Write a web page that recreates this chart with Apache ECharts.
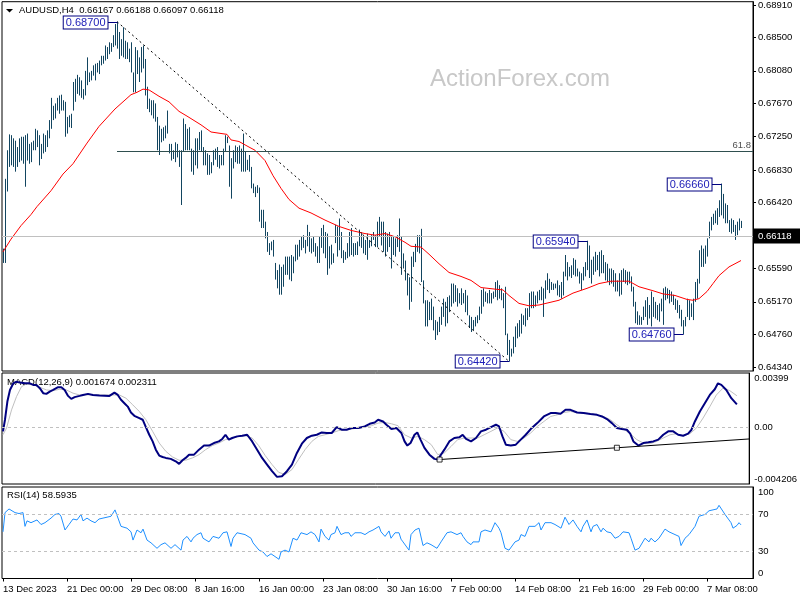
<!DOCTYPE html>
<html><head><meta charset="utf-8">
<script src="https://cdn.jsdelivr.net/npm/echarts@6/dist/echarts.min.js"></script>
<style>html,body{margin:0;padding:0;background:#fff}#c{width:800px;height:600px}</style>
</head><body><div id="c"></div>
<script>
// ---------- data ----------
const timeLabels = ["13 Dec 2023","21 Dec 00:00","29 Dec 08:00","8 Jan 16:00","16 Jan 00:00","23 Jan 08:00","30 Jan 16:00","7 Feb 00:00","14 Feb 08:00","21 Feb 16:00","29 Feb 00:00","7 Mar 08:00"];
const timeTickBars = [0,32,64,96,128,160,192,224,256,288,320,352];
const priceTicks = [0.6434,0.6476,0.6517,0.6559,0.6600,0.6642,0.6683,0.6725,0.6767,0.6808,0.6850,0.6891];
const macdTicks = [-0.004206,0,0.00399];
const macdTickLabels = ["-0.004206","0.00","0.00399"];
const rsiTicks = [0,30,70,100];

const highs = [
0.6584,0.6672,0.6708,0.6728,0.6727,0.6723,0.6720,0.6712,0.6723,0.6725,
0.6725,0.6727,0.6729,0.6716,0.6718,0.6720,0.6735,0.6733,0.6727,0.6716,
0.6729,0.6727,0.6733,0.6746,0.6774,0.6764,0.6767,0.6774,0.6777,0.6778,
0.6771,0.6769,0.6750,0.6752,0.6754,0.6794,0.6798,0.6803,0.6800,0.6796,
0.6785,0.6808,0.6825,0.6806,0.6808,0.6815,0.6817,0.6818,0.6821,0.6827,
0.6827,0.6840,0.6838,0.6844,0.6843,0.6853,0.6867,0.6870,0.6857,0.6848,
0.6863,0.6846,0.6844,0.6836,0.6844,0.6806,0.6838,0.6834,0.6825,0.6838,
0.6840,0.6823,0.6788,0.6773,0.6771,0.6771,0.6767,0.6750,0.6739,0.6735,
0.6737,0.6739,0.6758,0.6716,0.6716,0.6708,0.6718,0.6716,0.6708,0.6708,
0.6748,0.6741,0.6735,0.6737,0.6710,0.6708,0.6723,0.6723,0.6731,0.6733,
0.6712,0.6708,0.6704,0.6702,0.6693,0.6708,0.6710,0.6712,0.6702,0.6702,
0.6710,0.6727,0.6725,0.6714,0.6698,0.6708,0.6714,0.6712,0.6714,0.6710,
0.6729,0.6706,0.6696,0.6702,0.6687,0.6666,0.6662,0.6664,0.6661,0.6633,
0.6633,0.6618,0.6605,0.6591,0.6593,0.6595,0.6566,0.6557,0.6564,0.6561,
0.6564,0.6574,0.6574,0.6574,0.6576,0.6574,0.6589,0.6589,0.6595,0.6599,
0.6601,0.6595,0.6614,0.6605,0.6597,0.6599,0.6591,0.6587,0.6599,0.6610,
0.6614,0.6605,0.6603,0.6587,0.6589,0.6578,0.6614,0.6612,0.6622,0.6605,
0.6582,0.6580,0.6591,0.6605,0.6610,0.6591,0.6591,0.6593,0.6608,0.6605,
0.6599,0.6595,0.6603,0.6595,0.6601,0.6605,0.6601,0.6618,0.6624,0.6618,
0.6618,0.6605,0.6603,0.6605,0.6601,0.6599,0.6597,0.6601,0.6622,0.6599,
0.6578,0.6569,0.6553,0.6548,0.6574,0.6580,0.6590,0.6601,0.6601,0.6609,
0.6544,0.6519,0.6519,0.6517,0.6521,0.6511,0.6494,0.6492,0.6498,0.6511,
0.6521,0.6517,0.6523,0.6525,0.6540,0.6540,0.6538,0.6534,0.6528,0.6534,
0.6528,0.6532,0.6525,0.6500,0.6498,0.6494,0.6498,0.6500,0.6511,0.6532,
0.6534,0.6530,0.6528,0.6532,0.6528,0.6530,0.6542,0.6544,0.6538,0.6534,
0.6528,0.6536,0.6477,0.6469,0.6458,0.6473,0.6486,0.6490,0.6494,0.6502,
0.6500,0.6509,0.6509,0.6528,0.6530,0.6530,0.6525,0.6530,0.6532,0.6536,
0.6534,0.6544,0.6553,0.6546,0.6542,0.6540,0.6540,0.6544,0.6538,0.6542,
0.6555,0.6576,0.6567,0.6561,0.6563,0.6572,0.6570,0.6559,0.6555,0.6553,
0.6561,0.6567,0.6594,0.6588,0.6570,0.6574,0.6580,0.6576,0.6580,0.6582,
0.6576,0.6567,0.6565,0.6559,0.6559,0.6557,0.6553,0.6544,0.6553,0.6557,
0.6559,0.6557,0.6555,0.6555,0.6549,0.6536,0.6517,0.6505,0.6500,0.6498,
0.6511,0.6519,0.6523,0.6513,0.6530,0.6523,0.6517,0.6513,0.6515,0.6521,
0.6534,0.6536,0.6534,0.6532,0.6530,0.6526,0.6521,0.6519,0.6513,0.6507,
0.6494,0.6498,0.6521,0.6519,0.6515,0.6521,0.6542,0.6546,0.6582,0.6588,
0.6584,0.6588,0.6597,0.6618,0.6624,0.6628,0.6632,0.6635,0.6645,0.6666,
0.6653,0.6641,0.6639,0.6620,0.6622,0.6620,0.6614,0.6618,0.6622,0.6619];

const lows = [
0.6566,0.6566,0.6656,0.6687,0.6689,0.6687,0.6681,0.6687,0.6693,0.6695,
0.6691,0.6662,0.6695,0.6691,0.6693,0.6708,0.6708,0.6712,0.6689,0.6697,
0.6704,0.6706,0.6712,0.6723,0.6735,0.6746,0.6748,0.6758,0.6754,0.6758,
0.6758,0.6725,0.6729,0.6737,0.6736,0.6758,0.6769,0.6779,0.6777,0.6774,
0.6772,0.6777,0.6790,0.6794,0.6796,0.6802,0.6796,0.6806,0.6804,0.6815,
0.6817,0.6821,0.6823,0.6829,0.6832,0.6838,0.6840,0.6836,0.6823,0.6827,
0.6825,0.6823,0.6823,0.6819,0.6806,0.6781,0.6781,0.6804,0.6794,0.6806,
0.6811,0.6777,0.6760,0.6756,0.6752,0.6748,0.6744,0.6708,0.6702,0.6718,
0.6720,0.6723,0.6729,0.6704,0.6695,0.6697,0.6693,0.6699,0.6687,0.6639,
0.6706,0.6708,0.6708,0.6708,0.6681,0.6677,0.6689,0.6685,0.6708,0.6706,
0.6689,0.6689,0.6677,0.6677,0.6679,0.6689,0.6696,0.6687,0.6685,0.6689,
0.6689,0.6706,0.6717,0.6662,0.6647,0.6685,0.6693,0.6691,0.6691,0.6681,
0.6681,0.6681,0.6683,0.6681,0.6660,0.6654,0.6649,0.6654,0.6618,0.6610,
0.6610,0.6597,0.6580,0.6576,0.6582,0.6574,0.6545,0.6534,0.6526,0.6526,
0.6536,0.6551,0.6551,0.6545,0.6543,0.6553,0.6568,0.6570,0.6574,0.6582,
0.6585,0.6578,0.6587,0.6580,0.6578,0.6580,0.6574,0.6566,0.6566,0.6585,
0.6578,0.6572,0.6551,0.6559,0.6564,0.6566,0.6591,0.6574,0.6582,0.6572,
0.6566,0.6570,0.6572,0.6574,0.6576,0.6574,0.6576,0.6576,0.6587,0.6585,
0.6578,0.6576,0.6570,0.6585,0.6587,0.6595,0.6586,0.6586,0.6599,0.6588,
0.6580,0.6574,0.6580,0.6586,0.6559,0.6576,0.6574,0.6586,0.6580,0.6551,
0.6559,0.6544,0.6525,0.6507,0.6517,0.6561,0.6567,0.6580,0.6578,0.6542,
0.6515,0.6486,0.6486,0.6494,0.6494,0.6481,0.6469,0.6475,0.6479,0.6488,
0.6498,0.6486,0.6490,0.6504,0.6511,0.6515,0.6517,0.6511,0.6515,0.6513,
0.6515,0.6504,0.6500,0.6484,0.6479,0.6481,0.6486,0.6490,0.6494,0.6502,
0.6511,0.6517,0.6515,0.6515,0.6515,0.6521,0.6523,0.6519,0.6521,0.6519,
0.6509,0.6475,0.6450,0.6442,0.6448,0.6452,0.6460,0.6471,0.6473,0.6477,
0.6488,0.6486,0.6494,0.6498,0.6509,0.6509,0.6511,0.6515,0.6519,0.6519,
0.6498,0.6521,0.6532,0.6528,0.6532,0.6532,0.6534,0.6525,0.6523,0.6521,
0.6525,0.6549,0.6544,0.6549,0.6547,0.6551,0.6549,0.6549,0.6540,0.6532,
0.6544,0.6549,0.6557,0.6547,0.6540,0.6551,0.6555,0.6557,0.6549,0.6553,
0.6553,0.6544,0.6542,0.6538,0.6540,0.6536,0.6530,0.6530,0.6524,0.6526,
0.6542,0.6540,0.6538,0.6540,0.6530,0.6511,0.6490,0.6488,0.6488,0.6488,
0.6494,0.6498,0.6488,0.6496,0.6486,0.6498,0.6496,0.6494,0.6492,0.6505,
0.6488,0.6519,0.6521,0.6515,0.6517,0.6513,0.6507,0.6503,0.6496,0.6486,
0.6476,0.6486,0.6498,0.6494,0.6498,0.6494,0.6517,0.6521,0.6540,0.6561,
0.6561,0.6565,0.6574,0.6597,0.6607,0.6614,0.6616,0.6614,0.6624,0.6626,
0.6622,0.6616,0.6616,0.6605,0.6603,0.6605,0.6595,0.6601,0.6607,0.6610];

const maPoints = [[0,0.6580],[4,0.6596],[9,0.6613],[14,0.6627],[17,0.6637],[24,0.6657],[30,0.6678],[35,0.6691],[42,0.6717],[48,0.6738],[56,0.6760],[64,0.6778],[67,0.6781],[70,0.6785],[73,0.6784],[78,0.6776],[83,0.6769],[88,0.6757],[92,0.6751],[99,0.6740],[104,0.6731],[112,0.6728],[114,0.6721],[118,0.6719],[123,0.6712],[126,0.6708],[131,0.6695],[135,0.6676],[139,0.6660],[143,0.6646],[148,0.6635],[154,0.6629],[161,0.6620],[168,0.6612],[174,0.6607],[181,0.6603],[186,0.6601],[191,0.6603],[196,0.6599],[201,0.6592],[204,0.6587],[209,0.6586],[213,0.6577],[218,0.6565],[223,0.6554],[229,0.6549],[234,0.6544],[239,0.6535],[246,0.6533],[250,0.6532],[253,0.6525],[258,0.6515],[263,0.6512],[268,0.6513],[273,0.6516],[278,0.6519],[285,0.6528],[292,0.6534],[298,0.6540],[304,0.6543],[313,0.6543],[318,0.6536],[325,0.6531],[330,0.6527],[336,0.6525],[342,0.6520],[345,0.6519],[348,0.6521],[352,0.6530],[355,0.6540],[358,0.6550],[363,0.6561],[369,0.6569]];

const macdMain = [[0,-0.00032],[1,0.00054],[2.2,0.00188],[3.5,0.00274],[5.2,0.00323],[6.8,0.00335],[8.5,0.00328],[11,0.00323],[13.5,0.00323],[15.2,0.00311],[16.8,0.00311],[18.5,0.00287],[20.2,0.00250],[21.8,0.00245],[23.5,0.00262],[25.2,0.00274],[27.7,0.00294],[29.3,0.00294],[31,0.00274],[32.7,0.00230],[34.3,0.00208],[36,0.00221],[38.5,0.00230],[40.2,0.00237],[42.7,0.00245],[45.2,0.00237],[48.5,0.00232],[53.5,0.00230],[56,0.00254],[57.7,0.00237],[59.3,0.00201],[61,0.00176],[62.7,0.00151],[64.3,0.00107],[66,0.00083],[68.5,0.00066],[70.2,0.00054],[71.8,0],[73.5,-0.00057],[75.2,-0.00106],[76.8,-0.00167],[78.5,-0.00211],[80.2,-0.00221],[81.8,-0.00228],[84.3,-0.00235],[86.8,-0.00253],[88.5,-0.00272],[90.2,-0.00245],[91.8,-0.00228],[93.5,-0.00204],[96,-0.00204],[98.5,-0.00167],[101,-0.00137],[103.5,-0.00137],[106,-0.00118],[108.5,-0.00106],[110.2,-0.00088],[111.8,-0.00057],[113.5,-0.00093],[115.2,-0.00081],[117.7,-0.00069],[120.2,-0.00064],[122.7,-0.00057],[125.2,-0.00106],[127.7,-0.00167],[130.2,-0.00228],[132.7,-0.00277],[135.2,-0.00326],[137.7,-0.00368],[140.2,-0.00363],[142.7,-0.00326],[145.2,-0.00277],[147.7,-0.00191],[150.2,-0.00123],[152.7,-0.00081],[155.2,-0.00064],[157.7,-0.00057],[160.2,-0.00040],[162.7,-0.00044],[165.2,-0.00044],[167.7,0],[170.2,-0.00020],[172.7,-0.00020],[175.2,-0.00007],[178.5,-0.00007],[181.8,0.00004],[184.3,0.00024],[186.8,0.00034],[188.5,0.00054],[191,0.00041],[192.7,0.00017],[195.2,-0.00015],[197.7,-0.00007],[200.2,-0.00044],[201.8,-0.00106],[203.2,-0.00137],[204.8,-0.00118],[206.8,-0.00057],[208.2,-0.00040],[209.8,-0.00093],[211.8,-0.00154],[214.3,-0.00204],[216.8,-0.00235],[218.5,-0.00240],[219.3,-0.00228],[221.8,-0.00167],[224.3,-0.00106],[226.8,-0.00081],[229.3,-0.00076],[231,-0.00057],[232.7,-0.00088],[235.2,-0.00106],[237.7,-0.00081],[240.2,-0.00032],[242.7,-0.00020],[245.2,0],[247.7,0.00017],[249.3,0.00004],[251,-0.00069],[252.7,-0.00130],[255.2,-0.00137],[257.7,-0.00130],[260.2,-0.00093],[262.7,-0.00057],[265.2,-0.00015],[268.5,0.00029],[271.8,0.00078],[275.2,0.00103],[277.7,0.00103],[280.2,0.00098],[282.7,0.00127],[285.2,0.00127],[288.5,0.00107],[291.8,0.00103],[295.2,0.00096],[298.5,0.00090],[301,0.00078],[303.5,0.00059],[306,0.00029],[308.5,-0.00007],[311,-0.00015],[313.5,-0.00020],[315.2,-0.00049],[316.8,-0.00106],[319.3,-0.00137],[321.8,-0.00118],[324.3,-0.00113],[326.8,-0.00106],[329.3,-0.00093],[331.8,-0.00057],[334.3,-0.00032],[336.8,-0.00032],[339.3,-0.00057],[341.8,-0.00064],[344.3,-0.00049],[346,-0.00020],[347.7,0.00041],[350.2,0.00115],[352.7,0.00176],[355.2,0.00237],[357.7,0.00279],[359.3,0.00323],[361,0.00311],[363.5,0.00274],[366,0.00213],[368.8,0.00167]];

const macdSignal = [[0,-0.00057],[1.8,-0.00007],[4.3,0.00127],[6.8,0.00225],[9.3,0.00298],[11.8,0.00318],[15.2,0.00311],[18.5,0.00294],[21.8,0.00274],[25.2,0.00269],[28.5,0.00279],[31.8,0.00274],[35.2,0.00250],[38.5,0.00237],[43.5,0.00237],[48.5,0.00237],[55.2,0.00237],[58.5,0.00237],[61.8,0.00213],[65.2,0.00164],[68.5,0.00115],[71.8,0.00054],[75.2,-0.00032],[78.5,-0.00118],[81.8,-0.00179],[85.2,-0.00221],[88.5,-0.00245],[91.8,-0.00245],[95.2,-0.00228],[98.5,-0.00204],[101.8,-0.00167],[105.2,-0.00137],[108.5,-0.00118],[111.8,-0.00093],[115.2,-0.00081],[118.5,-0.00069],[121.8,-0.00064],[125.2,-0.00081],[128.5,-0.00137],[131.8,-0.00211],[135.2,-0.00277],[138.5,-0.00334],[141.8,-0.00351],[145.2,-0.00314],[148.5,-0.00240],[151.8,-0.00167],[155.2,-0.00106],[158.5,-0.00069],[161.8,-0.00057],[165.2,-0.00044],[168.5,-0.00027],[171.8,-0.00020],[175.2,-0.00015],[178.5,-0.00007],[181.8,0],[185.2,0.00010],[188.5,0.00029],[191.8,0.00034],[195.2,0.00024],[198.5,0.00010],[201.8,-0.00057],[205.2,-0.00081],[208.5,-0.00069],[211.8,-0.00093],[215.2,-0.00130],[218.5,-0.00204],[221.8,-0.00191],[225.2,-0.00143],[228.5,-0.00093],[231.8,-0.00081],[235.2,-0.00081],[238.5,-0.00081],[241.8,-0.00057],[245.2,-0.00032],[248.5,-0.00007],[251.8,-0.00032],[255.2,-0.00093],[258.5,-0.00106],[261.8,-0.00081],[265.2,-0.00044],[268.5,0.00004],[271.8,0.00041],[275.2,0.00078],[278.5,0.00090],[281.8,0.00107],[285.2,0.00115],[288.5,0.00107],[291.8,0.00103],[295.2,0.00098],[298.5,0.00090],[301.8,0.00078],[305.2,0.00054],[308.5,0.00017],[311.8,-0.00015],[315.2,-0.00049],[318.5,-0.00093],[321.8,-0.00118],[325.2,-0.00123],[328.5,-0.00106],[331.8,-0.00081],[335.2,-0.00057],[338.5,-0.00049],[341.8,-0.00064],[345.2,-0.00049],[348.5,-0.00007],[351.8,0.00066],[355.2,0.00151],[358.5,0.00237],[361.8,0.00287],[365.2,0.00269],[368.8,0.00231]];

const rsiPoints = [[0,51],[1,72],[3,76],[4,75],[6,72],[8,71],[9,72],[10,72],[11,57],[12,63],[14,61],[15,63],[17,64],[19,59],[21,61],[24,66],[26,70],[28,71],[29,68],[31,53],[33,59],[34,57],[35,65],[37,64],[39,70],[40,63],[42,66],[44,63],[46,61],[48,65],[49,64],[52,67],[54,68],[56,75],[57,69],[59,57],[60,59],[62,55],[64,51],[65,42],[67,53],[69,50],[70,54],[72,42],[74,39],[77,33],[79,37],[81,39],[84,33],[86,37],[89,31],[90,42],[92,46],[94,40],[95,44],[97,48],[99,50],[100,44],[103,40],[105,46],[108,44],[110,50],[112,51],[114,35],[115,44],[117,50],[119,49],[121,48],[124,44],[125,39],[128,31],[130,29],[132,24],[134,27],[135,26],[138,21],[139,29],[141,31],[143,29],[145,44],[147,42],[149,50],[150,50],[152,48],[154,51],[156,48],[158,40],[159,54],[161,46],[163,42],[164,48],[166,50],[167,57],[169,48],[171,50],[173,50],[174,46],[176,50],[179,50],[181,48],[183,51],[185,53],[188,57],[189,51],[191,46],[193,52],[194,44],[196,50],[198,50],[199,43],[200,40],[203,31],[204,48],[206,53],[208,55],[209,56],[210,36],[212,39],[214,37],[215,35],[217,33],[219,40],[220,39],[222,50],[224,51],[225,50],[227,48],[229,50],[230,46],[232,40],[234,37],[235,40],[238,40],[239,51],[241,53],[244,51],[245,53],[246,61],[248,55],[249,50],[251,33],[253,31],[254,33],[256,40],[258,42],[259,48],[261,46],[263,57],[264,59],[266,57],[268,61],[269,53],[271,61],[274,61],[276,59],[279,55],[281,67],[283,59],[285,64],[287,57],[289,51],[290,57],[292,64],[294,51],[295,57],[297,59],[299,51],[300,55],[302,51],[304,50],[306,44],[308,46],[310,51],[313,50],[314,44],[316,31],[318,33],[319,33],[321,44],[323,40],[324,44],[326,40],[328,44],[329,42],[331,54],[333,51],[334,51],[336,48],[338,46],[339,36],[341,44],[343,48],[344,46],[346,57],[348,68],[349,66],[351,70],[353,74],[354,76],[357,76],[358,80],[359,82],[361,70],[363,64],[364,61],[365,55],[367,58],[368,61],[369,58.59]];

const highLabelBars = [57, 292, 359];
const lowLabelBars = [253, 340];
const fibLevel = 0.67065;
const fibStartBar = 57;
const lastPrice = 0.66118;
const macdTrend = [[219.4,-0.0024],[308.5,-0.00153],[375,-0.00088]];
const headerText = "AUDUSD,H4  0.66167 0.66188 0.66097 0.66118";
const macdText = "MACD(12,26,9) 0.001674 0.002311";
const rsiText = "RSI(14) 58.5935";

// ---------- chart ----------
const FONT = 'Liberation Sans';
const FS = 9.5;
const BAR_COLOR = '#124560';

function nearestIdx(arr, v){ let b = 0; for (let k = 1; k < arr.length; k++) if (Math.abs(arr[k]-v) < Math.abs(arr[b]-v)) b = k; return b; }

const barData = highs.map((h, i) => [i, lows[i], h]);
const tagData = highLabelBars.map(i => [i, highs[i]]).concat(lowLabelBars.map(i => [i, lows[i]]));

function renderBar(params, api){
  const i = api.value(0);
  const lo = api.coord([i, api.value(1)]);
  const hi = api.coord([i, api.value(2)]);
  const x = Math.floor(lo[0]) + 0.5;
  return {type:'line', shape:{x1:x, y1:lo[1], x2:x, y2:hi[1]}, style:{stroke:BAR_COLOR, lineWidth:1}};
}
function renderTag(params, api){
  const v = api.value(1);
  const p = api.coord([api.value(0), v]);
  const x = Math.floor(p[0]) + 0.5, y = Math.round(p[1]) + 0.5;
  return {type:'group', children:[
    {type:'line', shape:{x1:x-10, y1:y, x2:x, y2:y}, style:{stroke:'#000080', lineWidth:1}},
    {type:'text', x:x-10, y:y, style:{text:v.toFixed(5), align:'right', verticalAlign:'middle', fill:'#2020b8', font:'11px "Liberation Sans"', backgroundColor:'#fff', borderColor:'#000080', borderWidth:1, padding:[1,2,0,2]}}
  ]};
}

const gridBase = {left:2, width:751, show:true, borderColor:'#000', borderWidth:1, backgroundColor:'transparent'};
const xBase = {type:'value', min:-0.5, max:375};
const labelStyle = {color:'#000', fontSize:FS, fontFamily:FONT};

const option = {
  animation:false,
  backgroundColor:'#fff',
  grid:[
    Object.assign({top:1, height:370}, gridBase),
    Object.assign({top:373, height:111}, gridBase),
    Object.assign({top:487, height:91.5}, gridBase)
  ],
  xAxis:[
    Object.assign({gridIndex:0, show:false, axisLine:{onZero:false}}, xBase),
    Object.assign({gridIndex:1, show:false, axisLine:{onZero:false}}, xBase),
    Object.assign({gridIndex:2,
      axisLine:{show:false, onZero:false}, splitLine:{show:false},
      axisTick:{show:true, customValues:timeTickBars, length:3, lineStyle:{color:'#000'}},
      axisLabel:Object.assign({customValues:timeTickBars, formatter:v => timeLabels[nearestIdx(timeTickBars, v)], align:'left', margin:6}, labelStyle)
    }, xBase)
  ],
  yAxis:[
    {gridIndex:0, type:'value', position:'right', min:0.642985, max:0.689514,
     axisLine:{show:true, onZero:false, lineStyle:{color:'#000'}}, splitLine:{show:false},
     axisTick:{show:true, customValues:priceTicks, length:3, lineStyle:{color:'#000'}},
     axisLabel:Object.assign({customValues:priceTicks, formatter:v => v.toFixed(5), margin:5}, labelStyle)},
    {gridIndex:1, type:'value', position:'right', min:-0.004206, max:0.00399,
     axisLine:{show:true, onZero:false, lineStyle:{color:'#000'}}, splitLine:{show:false},
     axisTick:{show:false},
     axisLabel:Object.assign({customValues:macdTicks, formatter:v => macdTickLabels[nearestIdx(macdTicks, v)], margin:5, verticalAlignMinLabel:'bottom', verticalAlignMaxLabel:'top'}, labelStyle)},
    {gridIndex:2, type:'value', position:'right', min:0, max:100,
     axisLine:{show:true, onZero:false, lineStyle:{color:'#000'}}, splitLine:{show:false},
     axisTick:{show:false},
     axisLabel:Object.assign({customValues:rsiTicks, formatter:v => String(Math.round(v)), margin:5, verticalAlignMinLabel:'bottom', verticalAlignMaxLabel:'top'}, labelStyle)}
  ],
  graphic:[
    {type:'text', x:430, y:79, z:-10, style:{text:'ActionForex.com', font:'24px "Liberation Sans"', fill:'#c8c8c8', verticalAlign:'middle'}},
    {type:'polygon', shape:{points:[[6,9],[13,9],[9.5,12.5]]}, style:{fill:'#000'}},
    {type:'text', x:19, y:10.5, style:{text:headerText, font:FS+'px "Liberation Sans"', fill:'#000', verticalAlign:'middle'}},
    {type:'text', x:7, y:382, style:{text:macdText, font:FS+'px "Liberation Sans"', fill:'#000', verticalAlign:'middle'}},
    {type:'text', x:7, y:495, style:{text:rsiText, font:FS+'px "Liberation Sans"', fill:'#000', verticalAlign:'middle'}}
  ],
  series:[
    {type:'custom', name:'bars', xAxisIndex:0, yAxisIndex:0, data:barData, renderItem:renderBar, encode:{x:0, y:[1,2]}, clip:true, z:2,
     markLine:{silent:true, symbol:['none','none'], animation:false, data:[
       {yAxis:lastPrice, lineStyle:{color:'#c0c0c0', type:'solid', width:1},
        label:{show:true, position:'end', formatter:lastPrice.toFixed(5), color:'#fff', backgroundColor:'#000', padding:[3,10,2,4], fontSize:FS, fontFamily:FONT, distance:1}},
       [{coord:[fibStartBar, fibLevel], lineStyle:{color:'#2f4f4f', type:'solid', width:1},
         label:{show:true, position:'insideEndTop', formatter:'61.8', color:'#505050', fontSize:FS, fontFamily:FONT, distance:[2,1]}},
        {coord:[375, fibLevel]}]
     ]}},
    {type:'line', name:'ma', xAxisIndex:0, yAxisIndex:0, data:maPoints, symbol:'none', showSymbol:false, lineStyle:{color:'#ff0000', width:1}, z:3},
    {type:'line', name:'trend', xAxisIndex:0, yAxisIndex:0, data:[[57, highs[57]],[253, lows[253]]], symbol:'none', lineStyle:{color:'#000', width:1, type:[2,3]}, z:3},
    {type:'custom', name:'tags', xAxisIndex:0, yAxisIndex:0, data:tagData, renderItem:renderTag, encode:{x:0, y:1}, clip:false, z:6},
    {type:'line', name:'signal', xAxisIndex:1, yAxisIndex:1, data:macdSignal, symbol:'none', lineStyle:{color:'#c0c0c0', width:1}, z:2,
     markLine:{silent:true, symbol:['none','none'], label:{show:false}, lineStyle:{color:'#c0c0c0', type:[3,3], width:1}, data:[{yAxis:0}]}},
    {type:'line', name:'macd', xAxisIndex:1, yAxisIndex:1, data:macdMain, symbol:'none', lineStyle:{color:'#000080', width:2}, z:3},
    {type:'line', name:'macdTrend', xAxisIndex:1, yAxisIndex:1, data:[macdTrend[0], macdTrend[2]], symbol:'none', lineStyle:{color:'#000', width:1}, z:4},
    {type:'scatter', name:'anchors', xAxisIndex:1, yAxisIndex:1, data:[macdTrend[0], macdTrend[1]], symbol:'rect', symbolSize:5, itemStyle:{color:'#fff', borderColor:'#000', borderWidth:1}, z:5},
    {type:'line', name:'rsi', xAxisIndex:2, yAxisIndex:2, data:rsiPoints, symbol:'none', lineStyle:{color:'#1e90ff', width:1}, z:3,
     markLine:{silent:true, symbol:['none','none'], label:{show:false}, lineStyle:{color:'#c0c0c0', type:[3,3], width:1}, data:[{yAxis:70},{yAxis:30}]}}
  ]
};
const chart = echarts.init(document.getElementById('c'), null, {renderer:'canvas', width:800, height:600});
chart.setOption(option);
</script>
</body></html>
